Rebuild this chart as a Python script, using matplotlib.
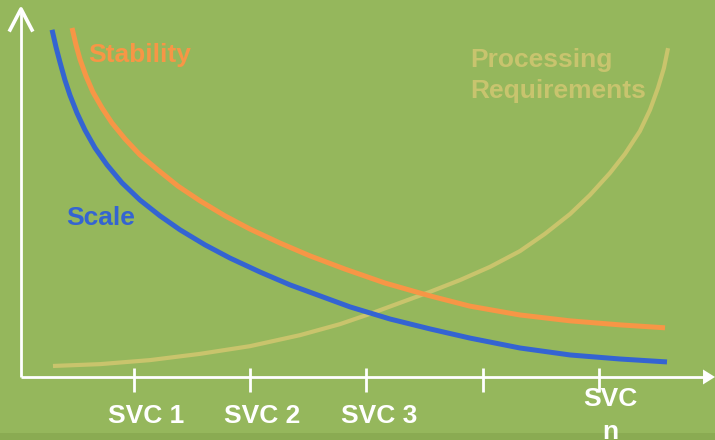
import numpy as np
import matplotlib.pyplot as plt

# 曲线数据(横轴: SVC个数, 纵轴: 相对值 0~100)
blue_x = [0.295, 0.329, 0.363, 0.406, 0.449, 0.510, 0.578, 0.665, 0.768, 0.897, 1.052, 1.224, 1.396,
          1.611, 1.826, 2.084, 2.342, 2.600, 2.858, 3.202, 3.546, 3.890, 4.320, 4.751, 5.181, 5.585]
blue_y = [94.6, 89.9, 85.8, 80.9, 76.8, 71.9, 67.3, 62.4, 57.8, 52.9, 48.2, 43.9, 40.1,
          36.0, 32.4, 28.6, 25.1, 22.1, 19.1, 15.8, 13.1, 10.6, 7.9, 6.0, 4.9, 4.1]
orange_x = [0.467, 0.501, 0.535, 0.587, 0.647, 0.725, 0.811, 0.922, 1.052, 1.206, 1.379, 1.568,
            1.783, 1.998, 2.256, 2.514, 2.815, 3.159, 3.546, 3.890, 4.320, 4.751, 5.181, 5.568]
orange_y = [95.1, 90.5, 86.6, 82.0, 77.6, 73.3, 69.2, 64.9, 60.5, 56.4, 52.0, 48.0,
            43.9, 40.3, 36.5, 33.0, 29.4, 25.6, 22.1, 19.3, 16.9, 15.3, 14.2, 13.4]
proc_x = [0.303, 0.707, 1.138, 1.568, 1.998, 2.428, 2.772, 3.030, 3.288, 3.546, 3.804, 4.062,
          4.320, 4.535, 4.751, 4.923, 5.095, 5.224, 5.352, 5.439, 5.507, 5.559, 5.594]
proc_y = [3.0, 3.5, 4.6, 6.3, 8.4, 11.4, 14.4, 17.2, 20.2, 23.2, 26.4, 30.0,
          34.3, 39.0, 44.4, 49.6, 55.6, 60.8, 67.0, 72.8, 78.7, 84.2, 89.6]
ticks = [1, 2, 3, 4, 5]
tick_labels = ['SVC 1', 'SVC 2', 'SVC 3', '', 'SVC\nn']

bg = '#95b75c'
fig = plt.figure(figsize=(7.15, 4.4), dpi=100, facecolor=bg)
ax = fig.add_axes([0, 0, 1, 1])
ax.set_facecolor(bg)
ax.set_xlim(-0.1527, 5.998)
ax.set_ylim(-17.17, 102.72)
ax.axis('off')
ax.axhspan(-17.17, -15.26, color='#8aab52', lw=0)

plt.rcParams['font.family'] = ['Liberation Sans', 'DejaVu Sans']

# 坐标轴(白色, 带箭头)
ax.plot([0.028, 5.93], [0, 0], color='white', lw=2, solid_capstyle='butt', clip_on=False)
ax.plot([0.028, 0.028], [0, 99.5], color='white', lw=2, solid_capstyle='butt')
ax.plot([-0.0667, 0.028, 0.1226], [94.55, 100.3, 94.55], color='white', lw=2.6)
ax.fill([5.895, 5.998, 5.895], [2.04, 0, -2.04], color='white', lw=0, clip_on=False)
for t in ticks:
    ax.plot([t, t], [2.45, -4.09], color='white', lw=2, solid_capstyle='butt')

# 三条曲线
ax.plot(proc_x, proc_y, color='#c9c46c', lw=3.0, solid_capstyle='butt', solid_joinstyle='round')
ax.plot(orange_x, orange_y, color='#f79646', lw=3.6, solid_capstyle='butt', solid_joinstyle='round')
ax.plot(blue_x, blue_y, color='#3464d2', lw=3.6, solid_capstyle='butt', solid_joinstyle='round')

# 文本标注
fs = 19
ax.text(0.604, 85.8, 'Stability', color='#f79646', fontsize=fs, fontweight='bold', va='baseline')
ax.text(0.415, 41.4, 'Scale', color='#3464d2', fontsize=fs, fontweight='bold', va='baseline')
ax.text(3.89, 76.0, 'Processing\nRequirements', color='#c8c46e', fontsize=fs, fontweight='bold',
        va='baseline', linespacing=1.37)
for t, lab in zip(ticks, tick_labels):
    if lab.startswith('SVC\n'):
        ax.text(t + 0.095, -16.9, lab, color='white', fontsize=fs, fontweight='bold',
                ha='center', va='baseline', linespacing=1.46, clip_on=False)
    else:
        ax.text(t + 0.105, -12.53, lab, color='white', fontsize=fs, fontweight='bold',
                ha='center', va='baseline')

fig.savefig('out.png', dpi=100, facecolor=bg)
